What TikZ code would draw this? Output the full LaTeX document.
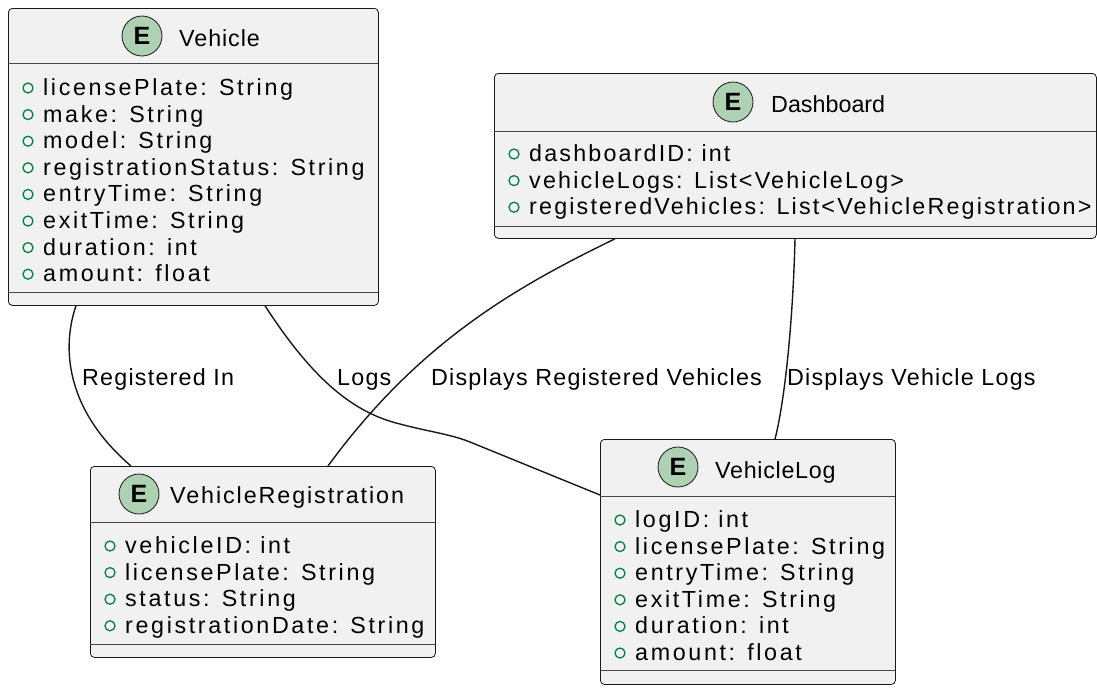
\documentclass[tikz,border=0pt]{standalone}
\usepackage{fontspec}
\setmainfont{Liberation Sans}
\newfontfamily\attrfont[LetterSpace=11.3]{Liberation Sans}
\newfontfamily\dashfont[LetterSpace=9.3]{Liberation Sans}
\newfontfamily\lblfont[LetterSpace=5.2]{Liberation Sans}
\newfontfamily\hdrfontA[LetterSpace=4]{Liberation Sans}
\newfontfamily\hdrfontB[LetterSpace=3]{Liberation Sans}
\newfontfamily\hdrfontC[LetterSpace=8.2]{Liberation Sans}
\usetikzlibrary{calc}
\definecolor{boxfill}{HTML}{F1F1F1}
\definecolor{boxline}{HTML}{181818}
\definecolor{ecirc}{HTML}{ADD1B2}
\definecolor{visgreen}{HTML}{038048}
\newcommand{\fsz}{\fontsize{23.3}{27}\selectfont}
\tikzset{
  umlbox/.style={draw=boxline, fill=boxfill, line width=0.8pt, rounded corners=4pt, inner sep=0pt, anchor=north west},
  sepline/.style={draw=boxline!80, line width=0.8pt},
  ecircle/.style={circle, draw=boxline, fill=ecirc, line width=0.8pt, minimum size=40pt, inner sep=0pt, font=\fontsize{25}{26}\selectfont\bfseries},
  vis/.style={circle, draw=visgreen, line width=1.3pt, minimum size=10pt, inner sep=0pt},
  txt/.style={anchor=base west, inner sep=0pt},
  attr/.style={txt, font=\attrfont\fsz},
  dattr/.style={txt, font=\dashfont\fsz},
  conn/.style={draw=boxline, line width=1.4pt},
  lbl/.style={txt, font=\lblfont\fsz}
}
\begin{document}
\begin{tikzpicture}[x=1pt,y=-1pt]
\useasboundingbox (0,0) rectangle (1097,689);
% ---- Vehicle ----
\node[umlbox, minimum width=370pt, minimum height=297pt] (veh) at (8,8) {};
\draw[sepline] (8,63) -- (378,63);
\draw[sepline] (8,292) -- (378,292);
\node[ecircle] (vehE) at (142,36) {E};
\node[txt, font=\hdrfontA\fsz] (vehT) at (179,46) {Vehicle};
\foreach \t [count=\i from 0] in {licensePlate: String, make: String, model: String, registrationStatus: String, entryTime: String, exitTime: String, duration: int, amount: float}{
  \node[vis] (vehv\i) at (28,{88+26.6*\i}) {};
  \node[attr] (veha\i) at (43,{95.5+26.6*\i}) {\t};
}
% ---- Dashboard ----
\node[umlbox, minimum width=602pt, minimum height=165pt] (dash) at (494,73) {};
\draw[sepline] (494,131) -- (1096,131);
\draw[sepline] (494,226) -- (1096,226);
\node[ecircle] (dashE) at (733,102) {E};
\node[txt, font=\fsz] (dashT) at (771,112) {Dashboard};
\foreach \t [count=\i from 0] in {dashboardID: int, vehicleLogs: List<VehicleLog>, registeredVehicles: List<VehicleRegistration>}{
  \node[vis] (dashv\i) at (514,{154+26.6*\i}) {};
  \node[dattr] (dasha\i) at (529,{161.5+26.6*\i}) {\t};
}
% ---- VehicleRegistration ----
\node[umlbox, minimum width=345pt, minimum height=191pt] (reg) at (90,466) {};
\draw[sepline] (90,522) -- (435,522);
\draw[sepline] (90,644) -- (435,644);
\node[ecircle] (regE) at (139,494) {E};
\node[txt, font=\hdrfontC\fsz] (regT) at (170,503.5) {VehicleRegistration};
\foreach \t [count=\i from 0] in {vehicleID: int, licensePlate: String, status: String, registrationDate: String}{
  \node[vis] (regv\i) at (110,{546+26.6*\i}) {};
  \node[attr] (rega\i) at (125,{553.5+26.6*\i}) {\t};
}
% ---- VehicleLog ----
\node[umlbox, minimum width=295pt, minimum height=245pt] (vlog) at (600,439) {};
\draw[sepline] (600,496) -- (895,496);
\draw[sepline] (600,670) -- (895,670);
\node[ecircle] (vlogE) at (678,467) {E};
\node[txt, font=\hdrfontB\fsz] (vlogT) at (715,478) {VehicleLog};
\foreach \t [count=\i from 0] in {logID: int, licensePlate: String, entryTime: String, exitTime: String, duration: int, amount: float}{
  \node[vis] (vlogv\i) at (620,{520+26.6*\i}) {};
  \node[attr] (vloga\i) at (635,{527.5+26.6*\i}) {\t};
}
% ---- connector end points ----
\coordinate (c1a) at ($(veh.south west)+(68,0)$);
\coordinate (c1b) at ($(reg.north west)+(41,0)$);
\coordinate (c2a) at ($(veh.south west)+(257,0)$);
\coordinate (c2b) at ($(vlog.north west)+(0,56)$);
\coordinate (c3a) at ($(dash.south west)+(121,0)$);
\coordinate (c3b) at ($(reg.north west)+(238,0)$);
\coordinate (c4a) at ($(dash.south west)+(301,0)$);
\coordinate (c4b) at ($(vlog.north west)+(175,0)$);
% ---- connectors ----
\draw[conn] (c1a) .. controls (64,340) and (60,405) .. (c1b);
\draw[conn] (c2a) .. controls (310,375) and (350,412) .. (400,424) .. controls (430,432) and (450,434) .. (470,442) -- (c2b);
\draw[conn] (c3a) .. controls (520,285) and (420,340) .. (c3b);
\draw[conn] (c4a) .. controls (793,320) and (785,400) .. (c4b);
% ---- labels ----
\node[lbl] (l1) at (82,385) {Registered In};
\node[lbl] (l2) at (337,385) {Logs};
\node[lbl] (l3) at (431,385) {Displays Registered Vehicles};
\node[lbl] (l4) at (787,385) {Displays Vehicle Logs};
\end{tikzpicture}
\end{document}
